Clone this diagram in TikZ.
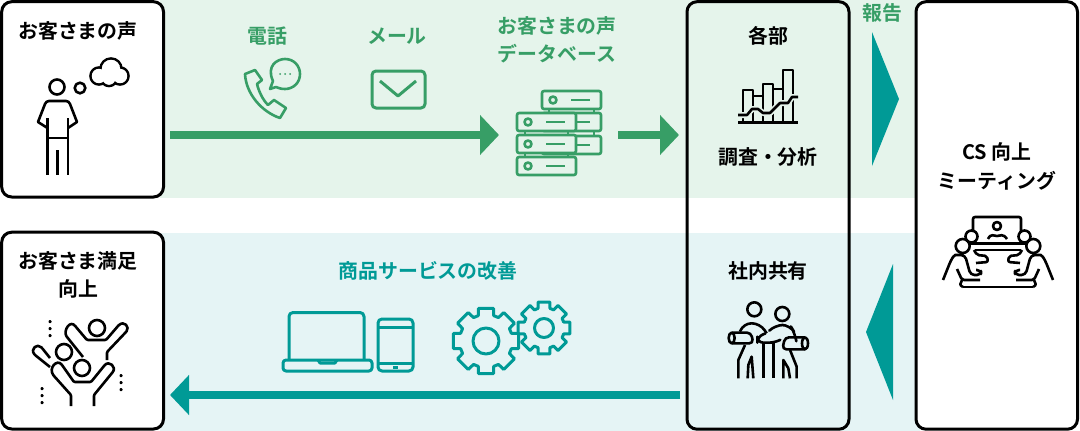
\documentclass[tikz,border=0pt]{standalone}
\usepackage{fontspec}
\setmainfont{Noto Sans CJK JP}[BoldFont={* Bold},Scale=1]
\usetikzlibrary{arrows.meta,calc}
\definecolor{csgreen}{HTML}{379E66}
\definecolor{csteal}{HTML}{009A96}
\definecolor{bandgreen}{HTML}{E5F4EB}
\definecolor{bandteal}{HTML}{E5F4F5}
\tikzset{
  panel/.style={draw=black,line width=3pt,rounded corners=10pt,inner sep=0pt,outer sep=0pt,anchor=north west},
  lab/.style={font=\fontsize{19.9pt}{22pt}\selectfont\bfseries,inner sep=0pt,anchor=center},
  flow/.style={line width=8pt,-{Triangle[length=19pt,width=39pt]}},
  ink/.style={line width=2.6pt,line join=round,line cap=butt},
  gearline/.style={line width=3pt,line join=round},
}
% one toothed wheel: centre, root radius, tip radius, hole radius, halo fill
\newcommand{\gearwheel}[5]{%
  \begin{scope}[shift={#1}]
    \draw[gearline,csteal,fill=#5] (-13:#3)
      foreach \a in {0,45,...,315} {
        -- ({\a-13}:#3) -- ({\a+13}:#3) -- ({\a+17}:#2) -- ({\a+28}:#2)
      } -- cycle;
    \draw[gearline,csteal] (0,0) circle (#4);
  \end{scope}}
% one pair of seated figures on the left side of the table
\newcommand{\seatedfigure}{%
  \draw (971.5,236.5) circle (6pt);
  \draw (962.7,246) circle (7pt);
  \draw[rounded corners=4pt] (943,280) -- (951,260) .. controls (953,257) and (956,255) .. (959,255) -- (965,255) -- (970.5,275) -- (981,275) -- (981,270) -- (976,270);
  \draw[rounded corners=2pt] (974,250) -- (977,255) -- (987,256) -- (988,262) -- (976,263);
  \draw[rounded corners=2pt] (957,269) -- (962,280) -- (980,280);
  \draw[rounded corners=1pt] (962,280) -- (960,285) -- (963,287);
}
\begin{document}
\begin{tikzpicture}[x=1pt,y=-1pt]
\useasboundingbox (0,0) rectangle (1080,431);
% background bands
\fill[bandgreen] (160,0) rectangle (920,198);
\fill[bandteal] (160,233) rectangle (920,431);

% panels
\node[panel,fill=white,minimum width=161.8pt,minimum height=195.3pt] (voice) at (1.7,1.7) {};
\node[panel,fill=white,minimum width=161.8pt,minimum height=196.8pt] (satisfied) at (1.7,232.2) {};
\node[panel,minimum width=162pt,minimum height=427.5pt] (dept) at (687,1.7) {};
\node[panel,fill=white,minimum width=161.5pt,minimum height=427.5pt] (meeting) at (916,1.7) {};

% flow arrows
\coordinate (f1a) at (170,135);
\coordinate (f1b) at (499,135);
\coordinate (f2a) at (618,135);
\coordinate (f2b) at (679,135);
\coordinate (f3a) at (680,395);
\coordinate (f3b) at (170,395);
\draw[flow,csgreen] (f1a) -- (f1b);
\draw[flow,csgreen] (f2a) -- (f2b);
\draw[flow,csteal] (f3a) -- (f3b);
\fill[csteal] (872,32) -- (899,99) -- (872,166) -- cycle;
\fill[csteal] (893,264) -- (866,332) -- (893,400) -- cycle;

% labels
\node[lab] (t1) at (78,31) {お客さまの声};
\node[lab] (t2) at (78,261) {お客さま満足};
\node[lab] (t3) at (78,289) {向上};
\node[lab,csgreen] (t4) at (267,36) {電話};
\node[lab,csgreen] (t5) at (397,36) {メール};
\node[lab,csgreen] (t6) at (557,26) {お客さまの声};
\node[lab,csgreen] (t7) at (557,54) {データベース};
\node[lab,csgreen] (t8) at (882,13) {報告};
\node[lab,csteal] (t9) at (428,271) {商品サービスの改善};
\node[lab] (t10) at (768,36) {各部};
\node[lab] (t11) at (768,157) {調査・分析};
\node[lab] (t12) at (768,271) {社内共有};
\node[lab] (t13) at (997,152) {CS 向上};
\node[lab] (t14) at (997,181) {ミーティング};

% thinking figure with cloud
\begin{scope}[ink]
  \draw (57,87) circle (7.5pt);
  \draw (80,88) circle (5.3pt);
  \draw[line join=round] (47.5,128) -- (38,122) -- (45,104) .. controls (46,102) and (47,101) .. (49,101)
     -- (66,101) .. controls (68,101) and (69,102) .. (70,104) -- (77,122) -- (68,128);
  \draw (47.5,118) -- (47.5,175) (68,118) -- (68,175) (57.5,150) -- (57.5,175) (47.5,138) -- (68,138);
  \foreach \c/\r in {{(99,76)}/8.5,{(111,69)}/10.5,{(120,76)}/8.5,{(109,78)}/8} \draw \c circle (\r pt);
  \foreach \c/\r in {{(99,76)}/7.2,{(111,69)}/9.2,{(120,76)}/7.2,{(109,78)}/6.7} \fill[white] \c circle (\r pt);
\end{scope}

% telephone and speech bubble
\begin{scope}[ink,csgreen]
  \draw (245,74) -- (255,70) -- (262,80) -- (257,84) .. controls (259,92) and (263,100) .. (268,105)
    -- (274,100) -- (286,108) -- (280,118) .. controls (262,112) and (246,94) .. cycle;
  \draw (270,89) -- (273,81) .. controls (266,66) and (277,59) .. (285,59)
    .. controls (294,59) and (300,66) .. (300,74) .. controls (300,83) and (293,89) .. (285,89)
    .. controls (281,89) and (278,88) .. (276,87) -- cycle;
  \foreach \x in {280,285,290} \fill (\x,74) circle (1pt);
\end{scope}

% envelope
\begin{scope}[ink,csgreen,line width=3pt]
  \draw[rounded corners=4pt] (372,71) rectangle (425,108);
  \draw (380,81) -- (398,96) -- (416,81);
\end{scope}

% server rack
\begin{scope}[ink,csgreen]
  \foreach \y in {91,113,136} {
    \draw[rounded corners=2pt,fill=bandgreen] (542,\y) rectangle (601,\y+18);
    \draw (571,\y+9) -- (590,\y+9);
    \draw (553,\y+9) circle (3.5pt);
  }
  \draw (549,109) -- (549,113) (594,109) -- (594,113) (594,131) -- (594,136);
  \foreach \y in {113,135,157} {
    \draw[rounded corners=2pt,fill=bandgreen] (517,\y) rectangle (576,\y+18);
    \draw (546,\y+9) -- (565,\y+9);
    \draw (528,\y+9) circle (3.5pt);
  }
  \draw (525,131) -- (525,135) (568,131) -- (568,135) (525,153) -- (525,157) (568,153) -- (568,157);
\end{scope}

% bar chart with trend line
\begin{scope}[ink]
  \draw (743,122) -- (743,90) -- (753,90) -- (753,122);
  \draw (763,122) -- (763,84) -- (773,84) -- (773,122);
  \draw (773,89) -- (783,89);
  \draw (783,122) -- (783,70) -- (793,70) -- (793,122);
  \draw (753,96) -- (763,96);
  \draw[bandgreen,line width=6pt,line join=round] (738,115) -- (747,115) -- (752,109) -- (758,109) -- (763,113) -- (770,113) -- (780,103) -- (788,103) -- (792,97) -- (798,97);
  \draw (738,115) -- (747,115) -- (752,109) -- (758,109) -- (763,113) -- (770,113) -- (780,103) -- (788,103) -- (792,97) -- (798,97);
  \draw (738,122.5) -- (798,122.5);
\end{scope}

% laptop and phone
\begin{scope}[ink,csteal,line width=3pt]
  \draw[rounded corners=4pt] (289,360) -- (289,312.5) -- (364,312.5) -- (364,360);
  \draw[rounded corners=3pt] (283,360) -- (372,360) -- (372,371) -- (283,371) -- cycle;
  \draw (318,360) -- (320,363) -- (335,363) -- (337,360);
  \draw[rounded corners=4pt] (378,319) rectangle (413,371);
  \draw (378,327) -- (413,327) (378,363) -- (413,363);
  \fill (392.5,365.5) rectangle (398,368.5);
\end{scope}

% gears
\gearwheel{(544,328)}{20.5pt}{26.5pt}{9.5pt}{none}
\gearwheel{(486,341)}{26.5pt}{33.5pt}{13pt}{bandteal}

% cheering group
\begin{scope}[ink,rounded corners=1pt]
  \draw (97,328) circle (8pt);
  \draw (64,352) circle (8pt);
  \draw (82,368) circle (8pt);
  \draw (83,357) -- (67,337) .. controls (63,331) and (70,319) .. (76,327) -- (87,340) -- (106,340) -- (118,326)
     .. controls (124,320) and (130,327) .. (126,332) -- (107,352) -- (107,360);
  \draw (50,367) -- (35,355) .. controls (30,349) and (37,343) .. (42,348) -- (50,358);
  \draw (71,406) -- (71,395) -- (54,376) .. controls (48,368) and (57,359) .. (62,365) -- (74,382) -- (91,382)
     -- (104,366) .. controls (109,360) and (117,367) .. (112,373) -- (94,395) -- (94,406);
  \foreach \x/\y in {50/320,42/387,121/374} \foreach \d in {0,7,14} \fill (\x-1.5,\y+\d) rectangle (\x+1.5,\y+\d+3);
\end{scope}

% colleagues sharing documents, on a local grid three times finer
\begin{scope}[ink,shift={(725,300)},scale=1/3]
  \draw (88,28) circle (21pt);
  \draw (172,42) circle (21pt);
  % left colleague
  \draw[rounded corners=8pt] (45,95) -- (55,70) -- (105,70) -- (125,100);
  \draw[rounded corners=4pt] (20,98) -- (78,98) -- (85,130) -- (20,130);
  \draw (20,114) circle (9pt and 16pt);
  \draw (60,135) -- (40,180) -- (40,235);
  \draw (68,235) -- (70,195) -- (80,170) -- (85,235);
  \draw (115,132) -- (115,235) (145,130) -- (145,235);
  \draw[rounded corners=6pt] (122,100) -- (97,110) -- (97,128) -- (150,128) -- (165,120);
  % right colleague
  \draw[rounded corners=8pt] (135,90) -- (150,75) -- (195,75) -- (210,100) -- (212,112);
  \draw[rounded corners=4pt] (240,112) -- (180,112) -- (172,148) -- (240,148);
  \draw (240,130) circle (9pt and 18pt);
  \draw (195,150) -- (215,200) -- (215,235);
  \draw (175,235) -- (175,180) -- (190,205) -- (195,235);
\end{scope}

% meeting table with remote participant
\begin{scope}[ink]
  \draw[rounded corners=2pt] (973,232) -- (973,217) -- (1021,217) -- (1021,232);
  \draw (997,226) circle (4pt);
  \draw (988,239) .. controls (991,233) and (994,236) .. (997,236) .. controls (1000,236) and (1003,233) .. (1007,239);
  \draw (970,243.5) -- (1026,243.5);
  \draw (975,250) -- (1021,250);
  \draw (963,287) -- (1033,287);
  \seatedfigure
  \begin{scope}[shift={(1996,0)},xscale=-1]
    \seatedfigure
  \end{scope}
\end{scope}
\end{tikzpicture}
\end{document}
